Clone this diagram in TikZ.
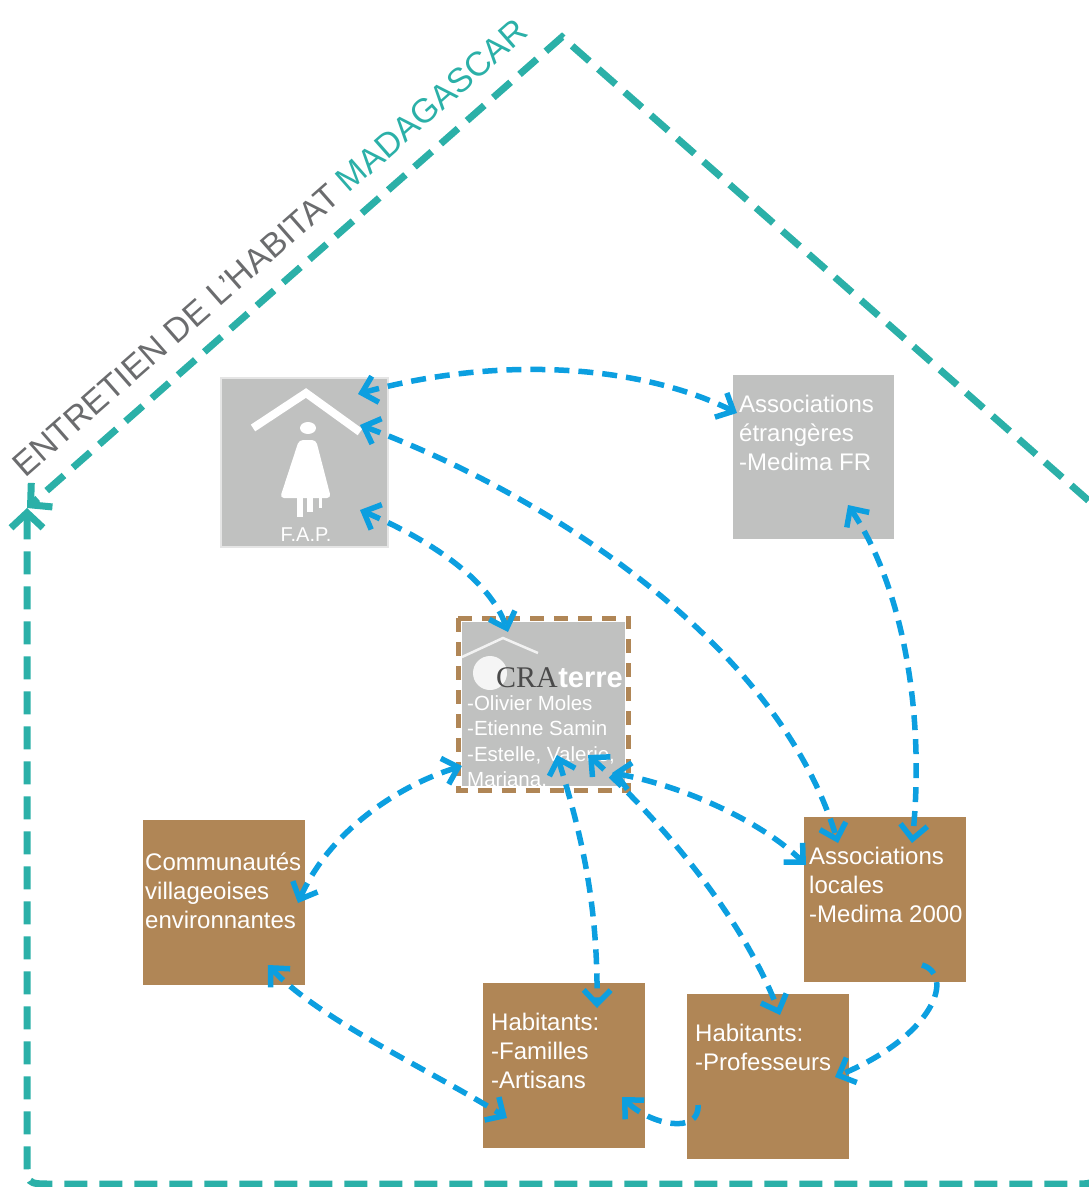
\documentclass[tikz,border=0pt]{standalone}
\usepackage{fontspec}
\setmainfont{Liberation Sans}
\newfontfamily\crafont{Liberation Serif}
\usetikzlibrary{arrows.meta,calc}
\definecolor{houseteal}{HTML}{2BB0A8}
\definecolor{roofgray}{HTML}{6B6C6E}
\definecolor{linkblue}{HTML}{0C9FE0}
\definecolor{boxbrown}{HTML}{B08656}
\definecolor{boxgray}{HTML}{C0C1C0}
\definecolor{logodark}{HTML}{4A4A4A}
\tikzset{
  graybox/.style={rectangle, anchor=north west, inner sep=0pt, fill=boxgray, draw=none},
  brownbox/.style={rectangle, anchor=north west, inner sep=0pt, fill=boxbrown, draw=none,
    minimum width=162pt, minimum height=165pt},
  boxtext/.style={anchor=north west, inner sep=0pt, text=white, align=left,
    font=\fontsize{24}{29}\selectfont},
  link/.style={draw=linkblue, line width=5.5pt, dash pattern=on 15pt off 9pt,
    {Straight Barb[length=14pt,width=27pt]}-{Straight Barb[length=14pt,width=27pt]}},
  onelink/.style={draw=linkblue, line width=5.5pt, dash pattern=on 15pt off 9pt,
    -{Straight Barb[length=14pt,width=27pt]}},
  housepath/.style={draw=houseteal, line width=7pt, dash pattern=on 23pt off 12pt,
    line join=miter,
    {Straight Barb[length=15pt,width=32pt]}-{Straight Barb[length=15pt,width=32pt]}}
}
\begin{document}
\begin{tikzpicture}[x=1pt,y=-1pt]
\useasboundingbox (0,0) rectangle (1089,1187);
\clip (0,0) rectangle (1089,1187);

% house outline
\coordinate (hcorner) at (27,508);
\coordinate (hbl) at (27,1184);
\coordinate (hbr) at (1097,1184);
\coordinate (hrc) at (1097,508);
\coordinate (hapex) at (562,37);
\draw[housepath] (hcorner) -- ($(hbl)+(0,-25)$) .. controls (hbl) .. ($(hbl)+(25,0)$)
  -- ($(hbr)+(-25,0)$) .. controls (hbr) .. ($(hbr)+(0,-25)$)
  -- (hrc) -- (hapex) -- (hcorner);

\node[anchor=base west, rotate=41.36, inner sep=0pt, font=\fontsize{34}{40}\selectfont]
  (rooftitle) at (25,479)
  {\textcolor{roofgray}{ENTRETIEN DE L'HABITAT} \textcolor{houseteal}{MADAGASCAR}};

% boxes
\node[graybox, minimum width=167pt, minimum height=169pt, draw=black!10, line width=2pt] (fap) at (220,377) {};
\node[graybox, minimum width=161pt, minimum height=164pt] (etr) at (733,375) {};
\node[rectangle, anchor=north west, inner sep=0pt, minimum width=170pt, minimum height=172pt] (cra) at (458,618) {};
\fill[boxgray] ($(cra.north west)+(4,4)$) rectangle ($(cra.south east)+(-3,-4)$);
\draw[boxbrown, line width=5pt, dash pattern=on 14pt off 10pt] (cra.north west) rectangle (cra.south east);
\node[brownbox] (com) at (143,820) {};
\node[brownbox] (aloc) at (804,817) {};
\node[brownbox] (hfam) at (483,983) {};
\node[brownbox] (hprof) at (687,994) {};

% FAP icon
\draw[white, line width=8pt, line join=miter] (253,428) -- (306,393) -- (360,432);
\fill[white] (308,428) ellipse (8pt and 6pt);
\fill[white, rounded corners=4pt] (299,440) -- (316,440) -- (331,498) -- (280,498) -- cycle;
\fill[white] (297,496) rectangle (303,517);
\fill[white] (307,496) rectangle (313,512);
\fill[white] (319,496) rectangle (322,508);
\node[anchor=base, inner sep=0pt, text=white, font=\fontsize{20}{24}\selectfont] (faplabel) at (306,541) {F.A.P.};

% CRAterre logo
\draw[white, opacity=0.8, line width=2.5pt] (462,657) -- (503,638) -- (538,653);
\fill[white, opacity=0.85] (490,673) circle (17pt);
\node[anchor=base west, inner sep=0pt, text=logodark, font=\crafont\fontsize{30}{34}\selectfont] (cralogo) at (496,687) {CRA};
\node[anchor=base west, inner sep=0pt, text=white, font=\bfseries\fontsize{29}{34}\selectfont] (terrelogo) at (cralogo.base east) {terre};

% texts
\node[boxtext] (etrT) at ($(etr.north west)+(6,16.7)$) {\strut Associations\\étrangères\\-Medima FR};
\node[boxtext, font=\fontsize{20.5}{25.5}\selectfont] (craT) at ($(cra.north west)+(9,74.2)$)
  {\strut -Olivier Moles\\-Etienne Samin\\-Estelle, Valerie,\\Mariana.};
\node[boxtext] (comT) at ($(com.north west)+(2,29.7)$) {\strut Communautés\\villageoises\\environnantes};
\node[boxtext] (alocT) at ($(aloc.north west)+(5,26.7)$) {\strut Associations\\locales\\-Medima 2000};
\node[boxtext] (hfamT) at ($(hfam.north west)+(8,26.7)$) {\strut Habitants:\\-Familles\\-Artisans};
\node[boxtext] (hprofT) at ($(hprof.north west)+(8,26.7)$) {\strut Habitants:\\-Professeurs};

% links
\draw[link] ($(fap.north west)+(138,17)$) .. controls +(142,-39) and +(-97,-48) .. ($(etr.north west)+(4,38)$);
\draw[link] ($(fap.north west)+(140,48)$) .. controls +(200,75) and +(-58,-193) .. ($(aloc.north west)+(34,26)$);
\draw[link] ($(fap.north west)+(140,133)$) .. controls +(70,30) and +(-18,-52) .. ($(cra.north west)+(50,14)$);
\draw[link] ($(etr.north west)+(115,130)$) .. controls +(57,85) and +(13,-123) .. ($(aloc.north west)+(108,26)$);
\draw[link] ($(cra.north west)+(4,148)$) .. controls +(-62,19) and +(32,-73) .. ($(com.north west)+(155,83)$);
\draw[link] ($(cra.north west)+(99,137)$) .. controls +(23,75) and +(1,-108) .. ($(hfam.north west)+(114,25)$);
\draw[link] ($(cra.north west)+(130,137)$) .. controls +(62,55) and +(-40,-105) .. ($(hprof.north west)+(93,21)$);
\draw[link] ($(cra.north west)+(154,155)$) .. controls +(68,12) and +(-46,-45) .. ($(aloc.north west)+(2,48)$);
\draw[link] ($(com.north west)+(125,145)$) .. controls +(52,55) and +(-77,-48) .. ($(hfam.north west)+(24,135)$);
\draw[onelink] ($(hprof.north west)+(11,111)$) .. controls +(2,30) and +(28,28) .. ($(hfam.north west)+(139,114)$);
\draw[onelink] ($(aloc.north west)+(118,148)$) .. controls +(33,10) and +(100,-42) .. ($(hprof.north west)+(148,83)$);
\end{tikzpicture}
\end{document}
